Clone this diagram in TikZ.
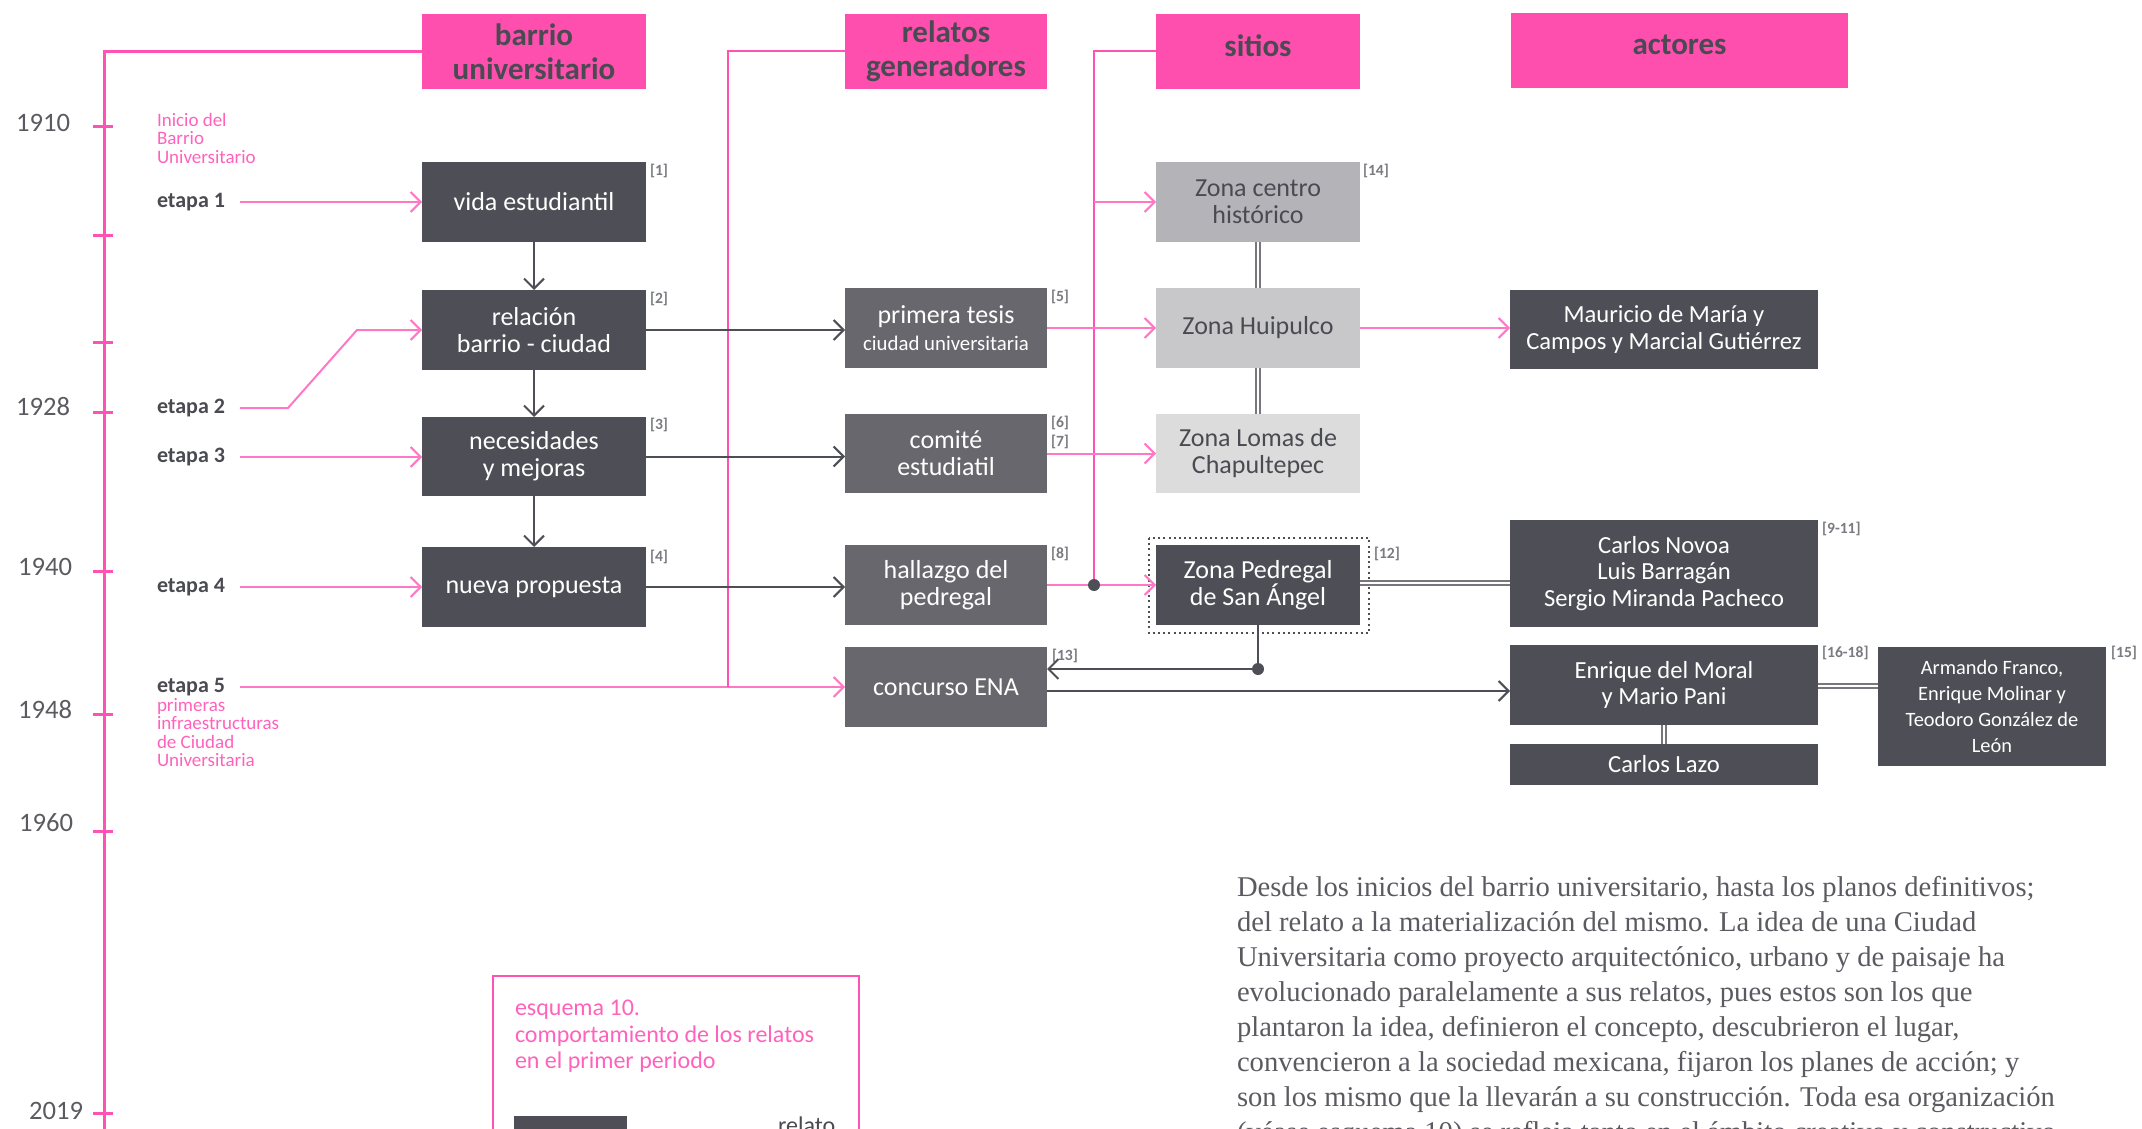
\documentclass[tikz,border=0pt]{standalone}
\usepackage{fontspec}
\setmainfont{Carlito}
\newfontfamily\bodyserif{Liberation Serif}
\usetikzlibrary{arrows.meta}
\definecolor{pinkH}{HTML}{FF4FAE}
\definecolor{pinkT}{HTML}{FF52B2}
\definecolor{pinkA}{HTML}{FF78C6}
\definecolor{pinkTx}{HTML}{FF62BC}
\definecolor{darkbox}{HTML}{4E4E56}
\definecolor{midbox}{HTML}{67676D}
\definecolor{lgA}{HTML}{B4B4B8}
\definecolor{lgB}{HTML}{C8C8CB}
\definecolor{lgC}{HTML}{DCDCDD}
\definecolor{txtdark}{HTML}{4A4A52}
\definecolor{refgray}{HTML}{7A7A80}
\definecolor{yeargray}{HTML}{5A5A60}
\definecolor{linegray}{HTML}{4E4E56}
\definecolor{dblgray}{HTML}{76767C}
\definecolor{bodygray}{HTML}{5A5A60}
\begin{document}
\begin{tikzpicture}[x=0.5pt,y=-0.5pt,
  every node/.style={inner sep=0pt, outer sep=0pt},
  hdr/.style={fill=pinkH, text=txtdark, font=\fontsize{15.5}{17}\selectfont\bfseries, align=center, anchor=north west, minimum height=37.5pt},
  box/.style={anchor=north west, align=center, text=white, font=\fontsize{13}{13.5}\selectfont, minimum height=40pt},
  abox/.style={box, fill=darkbox, font=\fontsize{12.3}{13.3}\selectfont, minimum width=154pt},
  year/.style={anchor=east, text=yeargray, font=\fontsize{13.3}{14}\selectfont},
  etapa/.style={anchor=west, text=txtdark, font=\fontsize{11}{12}\selectfont\bfseries},
  plabel/.style={anchor=north west, align=left, text=pinkTx, font=\fontsize{9.5}{9.3}\selectfont},
  refl/.style={anchor=west, text=refgray, font=\fontsize{7.8}{8}\selectfont\bfseries},
  tlline/.style={draw=pinkT, line width=1.5pt},
  bracket/.style={draw=pinkT, line width=1pt},
  parrow/.style={draw=pinkA, line width=1pt, -{Straight Barb[length=5pt,width=10pt]}},
  dline/.style={draw=linegray, line width=1pt},
  darrow/.style={dline, -{Straight Barb[length=5pt,width=10pt]}},
  dbl/.style={draw=dblgray, line width=0.75pt, double=white, double distance=1.1pt}
]
\useasboundingbox (0,0) rectangle (2142,1129);
\clip (0,0) rectangle (2142,1129);

% headers
\node[hdr, minimum width=112pt] (hbarrio) at (422,14) {barrio\\universitario};
\node[hdr, minimum width=101pt] (hrelatos) at (845,14) {relatos\\generadores};
\node[hdr, minimum width=102pt, text depth=6pt] (hsitios) at (1156,14) {sitios};
\node[hdr, minimum width=168.5pt, text depth=6pt] (hactores) at (1511,13) {actores};

% timeline
\coordinate (tlend) at (104,1140);
\draw[tlline] (hbarrio.west) -| (tlend);
\foreach \yy in {127,235,342,412,571,714,831,1113}
  \draw[tlline] (93,\yy) -- (113,\yy);
\node[year] (y1910) at (70,123) {1910};
\node[year] (y1928) at (70,407) {1928};
\node[year] (y1940) at (72,567) {1940};
\node[year] (y1948) at (72,710) {1948};
\node[year] (y1960) at (73,823) {1960};
\node[year] (y2019) at (83,1111) {2019};

\node[plabel] (inicio) at (157,113) {Inicio del\\Barrio\\Universitario};
\node[plabel] (primeras) at (157,698) {primeras\\infraestructuras\\de Ciudad\\Universitaria};

\node[etapa] (e1) at (157,202) {etapa 1};
\node[etapa] (e2) at (157,408) {etapa 2};
\node[etapa] (e3) at (157,457) {etapa 3};
\node[etapa] (e4) at (157,587) {etapa 4};
\node[etapa] (e5) at (157,687) {etapa 5};

% column 1
\node[box, fill=darkbox, minimum width=112pt] (vida) at (422,162) {vida estudiantil};
\node[box, fill=darkbox, minimum width=112pt] (relacion) at (422,290) {relación\\barrio - ciudad};
\node[box, fill=darkbox, minimum width=112pt, minimum height=39.5pt] (necesidades) at (422,417) {necesidades\\y mejoras};
\node[box, fill=darkbox, minimum width=112pt] (nueva) at (422,547) {nueva propuesta};

% column 2
\node[box, fill=midbox, minimum width=101pt] (tesis) at (845,288) {primera tesis\\{\fontsize{10.4}{12}\selectfont ciudad universitaria}};
\node[box, fill=midbox, minimum width=101pt, minimum height=39.5pt] (comite) at (845,414) {comité\\estudiatil};
\node[box, fill=midbox, minimum width=101pt] (hallazgo) at (845,545) {hallazgo del\\pedregal};
\node[box, fill=midbox, minimum width=101pt] (ena) at (845,647) {concurso ENA};

% column 3
\node[box, fill=lgA, text=txtdark, minimum width=102pt] (centro) at (1156,162) {Zona centro\\histórico};
\node[box, fill=lgB, text=txtdark, minimum width=102pt] (huipulco) at (1156,288) {Zona Huipulco};
\node[box, fill=lgC, text=txtdark, minimum width=102pt, minimum height=39.5pt] (lomas) at (1156,414) {Zona Lomas de\\Chapultepec};
\node[box, fill=darkbox, minimum width=102pt] (pedregal) at (1156,545) {Zona Pedregal\\de San Ángel};
\draw[draw=linegray, line width=1pt, dash pattern=on 1pt off 1.6pt]
  ([xshift=-3.5pt,yshift=3.5pt]pedregal.north west) rectangle ([xshift=4.5pt,yshift=-4pt]pedregal.south east);

% column 4
\node[abox, minimum height=39.5pt] (mauricio) at (1510,290) {Mauricio de María y\\Campos y Marcial Gutiérrez};
\node[abox, minimum height=53.5pt] (novoa) at (1510,520) {Carlos Novoa\\Luis Barragán\\Sergio Miranda Pacheco};
\node[abox, minimum height=40pt] (moral) at (1510,645) {Enrique del Moral\\y Mario Pani};
\node[abox, minimum height=20.5pt] (lazo) at (1510,744) {Carlos Lazo};
\node[abox, font=\fontsize{10.2}{13}\selectfont, minimum width=114pt, minimum height=59.5pt] (armando) at (1878,647) {Armando Franco,\\Enrique Molinar y\\Teodoro González de\\León};

% references
\node[refl] (r1) at (650,171) {[1]};
\node[refl] (r2) at (650,299) {[2]};
\node[refl] (r3) at (650,425) {[3]};
\node[refl] (r4) at (650,557) {[4]};
\node[refl] (r5) at (1051,297) {[5]};
\node[refl] (r6) at (1051,423) {[6]};
\node[refl] (r7) at (1051,442) {[7]};
\node[refl] (r8) at (1051,554) {[8]};
\node[refl] (r13) at (1052,656) {[13]};
\node[refl] (r14) at (1363,171) {[14]};
\node[refl] (r12) at (1374,554) {[12]};
\node[refl] (r911) at (1822,529) {[9-11]};
\node[refl] (r1618) at (1822,653) {[16-18]};
\node[refl] (r15) at (2111,653) {[15]};

% etapa arrows
\draw[parrow] ([xshift=7.5pt]e1.east) -- (vida.west);
\coordinate (e2a) at (288,408);
\coordinate (e2b) at (357,330);
\draw[parrow] ([xshift=7.5pt]e2.east) -- (e2a) -- (e2b) -- (relacion.west);
\draw[parrow] ([xshift=7.5pt]e3.east) -- (e3.east -| necesidades.west);
\draw[parrow] ([xshift=7.5pt]e4.east) -- (e4.east -| nueva.west);
\draw[parrow] ([xshift=7.5pt]e5.east) -- (ena.west);

% brackets
\coordinate (rjoin) at (728,687);
\draw[bracket] (hrelatos.west) -| (rjoin);
\coordinate (sdot) at (1094,585);
\coordinate (sbranch) at (1094,202);
\draw[bracket] (hsitios.west) -| (sdot);
\draw[parrow] (sbranch) -- (centro.west);

% dark arrows
\draw[darrow] (vida) -- (relacion);
\draw[darrow] (relacion) -- (necesidades);
\draw[darrow] (necesidades) -- (nueva);
\draw[darrow] (relacion.east) -- (relacion.east -| tesis.west);
\draw[darrow] (necesidades.east) -- (necesidades.east -| comite.west);
\draw[darrow] (nueva.east) -- (nueva.east -| hallazgo.west);

% pink arrows
\draw[parrow] (tesis.east) -- (huipulco.west);
\draw[parrow] (comite.east) -- (lomas.west);
\draw[parrow] (hallazgo.east) -- (pedregal.west);
\draw[parrow] (huipulco.east) -- (huipulco.east -| mauricio.west);
\fill[linegray] (sdot) circle (3pt);

% double lines
\draw[dbl] (centro) -- (huipulco);
\draw[dbl] (huipulco) -- (lomas);
\draw[dbl] (pedregal.east |- 0,583) -- (novoa.west |- 0,583);
\draw[dbl] (moral.east |- 0,686) -- (armando.west |- 0,686);
\draw[dbl] (moral) -- (lazo);

% pedregal to ENA
\coordinate (pdot) at (1258,669);
\draw[dline] (pedregal.south) -- (pdot);
\draw[darrow] (pdot) -- (pdot -| ena.east);
\fill[linegray] (pdot) circle (3pt);
\draw[darrow] (ena.east |- 0,691) -- (moral.west |- 0,691);

% legend
\draw[draw=pinkT, line width=1pt] (493,976) rectangle (859,1160);
\node[anchor=north west, align=left, text=pinkTx, font=\fontsize{12}{13.25}\selectfont] (legtitle) at (515,1000) {esquema 10.\\comportamiento de los relatos\\en el primer periodo};
\fill[darkbox] (514,1116) rectangle (627,1160);
\node[anchor=north west, text=txtdark, font=\fontsize{12}{13}\selectfont] (legrel) at (778,1117) {relato};

% body paragraph
\node[anchor=north west, align=left, text=bodygray, font=\bodyserif\fontsize{14.3}{17.5}\selectfont] (body) at (1237,876) {Desde los inicios del barrio universitario, hasta los planos definitivos;\\del relato a la materialización del mismo. La idea de una Ciudad\\Universitaria como proyecto arquitectónico, urbano y de paisaje ha\\evolucionado paralelamente a sus relatos, pues estos son los que\\plantaron la idea, definieron el concepto, descubrieron el lugar,\\convencieron a la sociedad mexicana, fijaron los planes de acción; y\\son los mismo que la llevarán a su construcción. Toda esa organización\\(véase esquema 10) se refleja tanto en el ámbito creativo y constructivo};
\end{tikzpicture}
\end{document}
